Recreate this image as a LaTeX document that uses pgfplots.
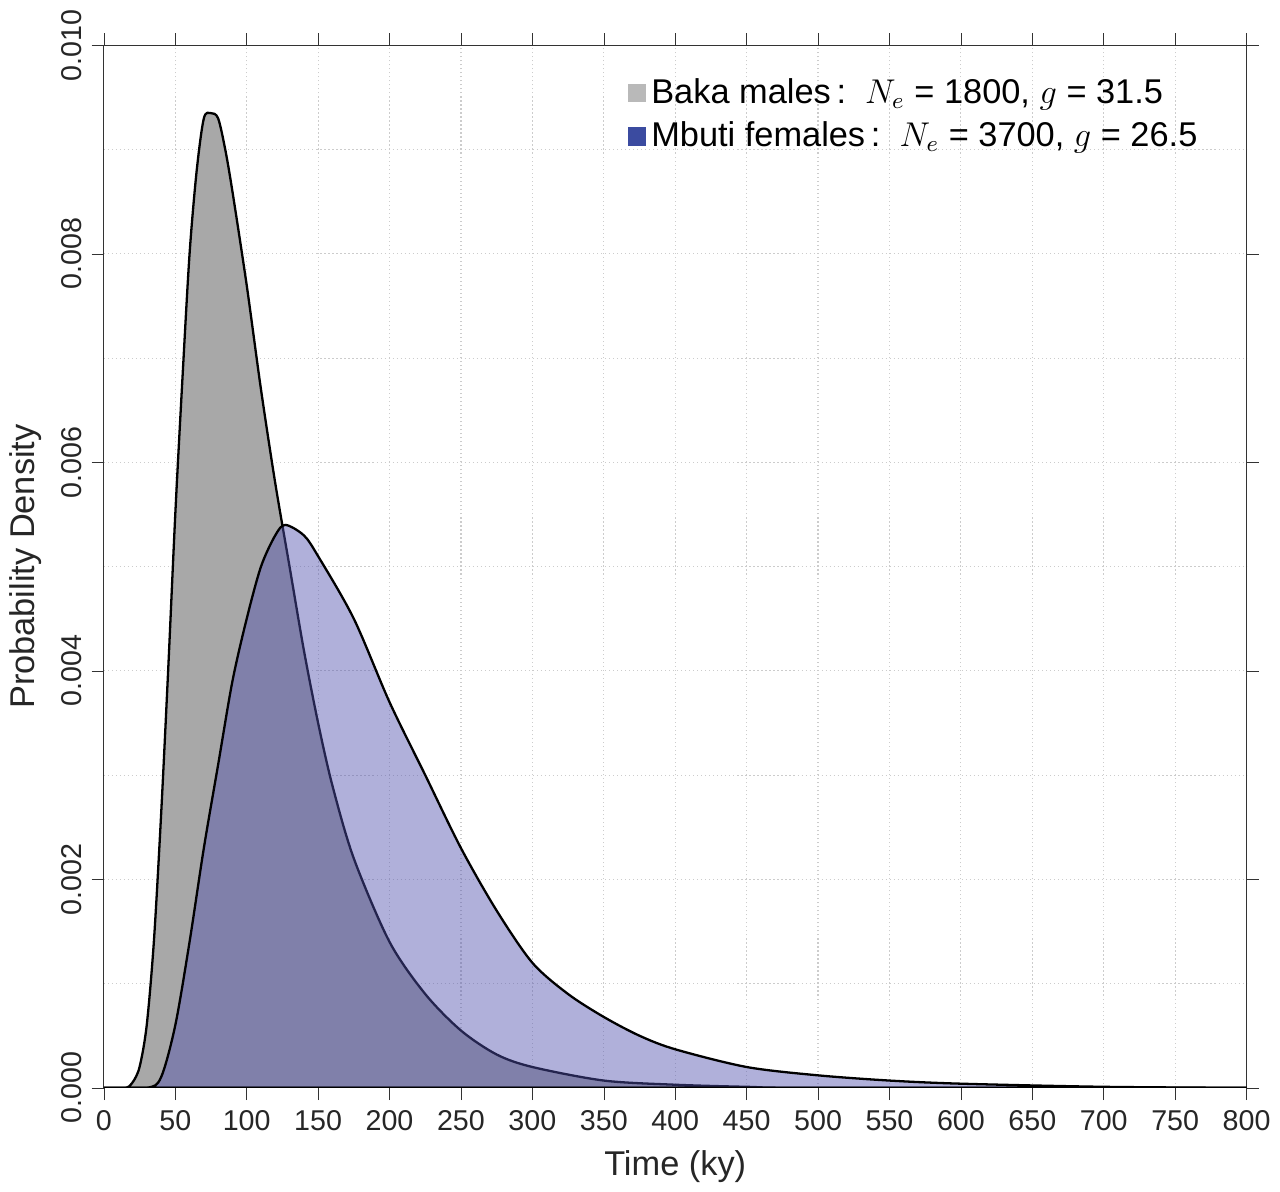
\documentclass[border=0pt]{standalone}
\usepackage{pgfplots}
\pgfplotsset{compat=1.18}
\usepackage{fontspec}
\setmainfont{Liberation Sans}
\definecolor{bakafill}{RGB}{168,168,168}
\definecolor{mbfill}{RGB}{80,80,173}
\definecolor{mbleg}{RGB}{59,75,160}
\begin{document}
\begin{tikzpicture}
\begin{axis}[
  scale only axis, width=399pt, height=364pt,
  xmin=0, xmax=800, ymin=0, ymax=0.010,
  xtick={0,50,...,800},
  ytick={0,0.002,...,0.0101},
  minor ytick={0.001,0.003,...,0.0095},
  yticklabel style={rotate=90, /pgf/number format/.cd, fixed, fixed zerofill, precision=3},
  /pgf/number format/assume math mode=true,
  scaled y ticks=false,
  tick label style={font=\fontsize{10}{12}\selectfont, text=black!85},
  grid=both,
  major grid style={densely dotted, gray!40},
  minor grid style={densely dotted, gray!40},
  tick align=outside, tick style={black!80},
  minor tick length=0pt,
  axis line style={black!80},
  xlabel={Time (ky)}, ylabel={Probability Density},
  label style={font=\fontsize{12}{14}\selectfont, text=black!85},
  legend style={at={(0.97,0.98)}, anchor=north east, draw=none, fill=none,
    font=\fontsize{12}{14}\selectfont, row sep=1pt},
  legend cell align=left,
]
\addplot[draw=black, fill=bakafill, thick, smooth, forget plot] coordinates {
(0,0)(15,0)(20,0.00005)(25,0.0002)(30,0.0006)(35,0.0014)(40,0.0026)(45,0.0040)(50,0.0055)(55,0.0068)(60,0.0080)(65,0.0088)(70,0.0093)(75,0.00935)(80,0.0093)(85,0.0090)(90,0.0086)(100,0.0077)(110,0.0067)(120,0.0058)(130,0.0050)(140,0.0042)(150,0.0035)(160,0.0029)(175,0.0022)(200,0.0014)(225,0.0009)(250,0.00055)(275,0.00032)(300,0.0002)(350,0.00007)(400,0.00003)(450,0.00001)(500,0)(800,0)} \closedcycle;
\addplot[draw=black, fill=mbfill, fill opacity=0.45, thick, smooth, forget plot] coordinates {
(0,0)(30,0)(40,0.0001)(50,0.0006)(60,0.0014)(70,0.0023)(80,0.0031)(90,0.0039)(100,0.0045)(110,0.0050)(120,0.0053)(127,0.0054)(140,0.0053)(150,0.0051)(175,0.0045)(200,0.0037)(225,0.0030)(250,0.0023)(275,0.0017)(300,0.0012)(325,0.0009)(350,0.00068)(375,0.0005)(400,0.00037)(450,0.0002)(500,0.00012)(550,0.00007)(600,0.00004)(700,0.00001)(800,0)} \closedcycle;
\addlegendimage{only marks, mark=square*, mark size=3pt, color=bakafill!80}
\addlegendentry{Baka males\,:\ \ $N_e$ = 1800, $g$ = 31.5}
\addlegendimage{only marks, mark=square*, mark size=3pt, color=mbleg}
\addlegendentry{Mbuti females\,:\ \ $N_e$ = 3700, $g$ = 26.5}
\end{axis}
\end{tikzpicture}
\end{document}
